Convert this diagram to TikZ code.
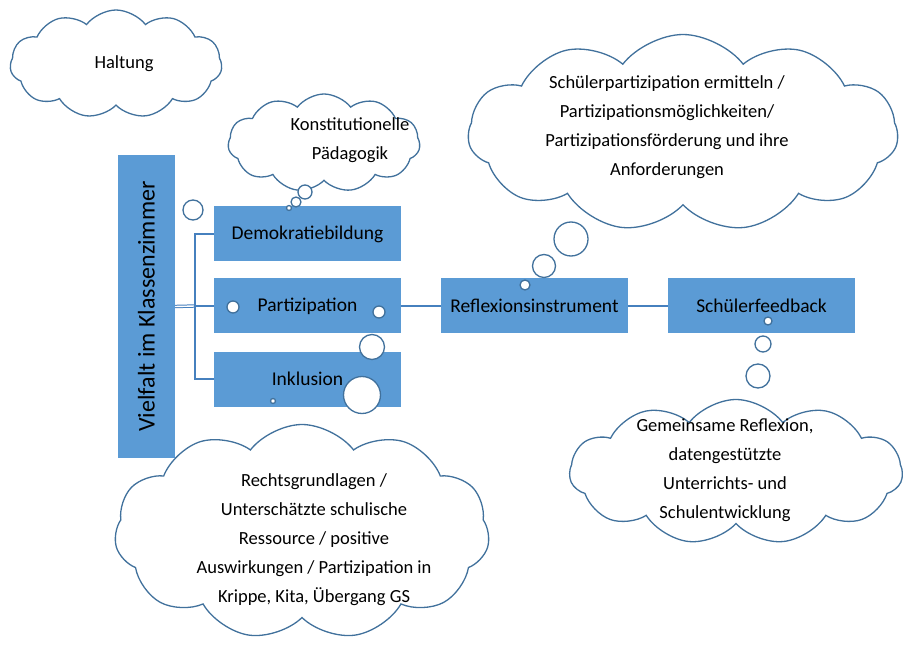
\documentclass[tikz,border=0pt]{standalone}
\usepackage{fontspec}
\setmainfont{Carlito}
\usetikzlibrary{shapes}

\definecolor{boxblue}{RGB}{91,155,213}
\definecolor{randblau}{RGB}{65,113,156}
\definecolor{linienblau}{RGB}{70,128,190}

\begin{document}
\begin{tikzpicture}[x=1pt,y=1pt]
        \tikzstyle{every node}+=[inner sep=0pt]
        \tikzstyle{box}=[fill=boxblue, minimum width=187, minimum height=55, font=\fontsize{19.5}{23}\selectfont]
        \tikzstyle{wolke}=[cloud, cloud puffs=11, cloud puff arc=105, cloud ignores aspect, draw=randblau, line width=1.3pt, fill=white]
        \tikzstyle{blase}=[circle, draw=randblau, line width=1.3pt, fill=white]
        \tikzstyle{txt}=[align=center, font=\fontsize{18.5}{29}\selectfont]
        \tikzstyle{verbinder}=[draw=linienblau, line width=1.3pt]
        \useasboundingbox (0,0) rectangle (903,-655);
        % boxes
        \node[box, rotate=90, minimum width=303, minimum height=57, font=\fontsize{24}{28}\selectfont] (vielfalt) at (146.5,-306.5) {Vielfalt im Klassenzimmer};
        \node[box] (demo) at (307.5,-234) {Demokratiebildung};
        \node[box] (partiz) at (307.5,-306) {Partizipation};
        \node[box] (inkl) at (307.5,-379) {Inklusion};
        \node[box] (reflex) at (534.5,-306) {Reflexionsinstrument};
        \node[box] (feedback) at (761.5,-306) {Schülerfeedback};
        % connectors
        \coordinate (split) at (195,-306);
        \draw [verbinder, line width=1pt, double, double distance=1.4pt] (vielfalt.south) -- (split);
        \draw [verbinder] (demo.west) -- (demo.west -| split) -- (inkl.west -| split) -- (inkl.west);
        \draw [verbinder] (split) -- (partiz.west);
        \draw [verbinder] (partiz) -- (reflex);
        \draw [verbinder] (reflex) -- (feedback);
        % clouds
        \node[wolke, minimum width=212, minimum height=108] (haltung) at (116,-64) {};
        \draw (124,-64) node[txt] (haltungtext) {Haltung};
        \node[wolke, minimum width=192, minimum height=98] (konst) at (324,-143) {};
        \draw (350,-140) node[txt] (konsttext) {Konstitutionelle\\Pädagogik};
        \node[wolke, minimum width=430, minimum height=197] (ermitteln) at (683,-133) {};
        \draw (667,-127) node[txt] (ermittelntext) {Schülerpartizipation ermitteln /\\Partizipationsmöglichkeiten/\\Partizipationsförderung und ihre\\Anforderungen};
        \node[wolke, minimum width=375, minimum height=215] (recht) at (302,-532) {};
        \draw (314,-540) node[txt] (rechttext) {Rechtsgrundlagen /\\Unterschätzte schulische\\Ressource / positive\\Auswirkungen / Partizipation in\\Krippe, Kita, Übergang GS};
        \node[wolke, minimum width=333, minimum height=145] (gemein) at (736,-472) {};
        \draw (725,-470) node[txt] (gemeintext) {Gemeinsame Reflexion,\\datengestützte\\Unterrichts- und\\Schulentwicklung};
        % bubbles
        \node[blase, minimum size=20] (b1) at (193,-210) {};
        \node[blase, minimum size=14] (b2) at (305,-192) {};
        \node[blase, minimum size=10] (b3) at (296,-202) {};
        \node[blase, minimum size=5] (b4) at (289,-208) {};
        \node[blase, minimum size=12] (b5) at (233,-307) {};
        \node[blase, minimum size=12] (b6) at (379,-312) {};
        \node[blase, minimum size=25] (b7) at (372,-347) {};
        \node[blase, minimum size=37] (b8) at (362,-395) {};
        \node[blase, minimum size=5] (b9) at (273,-401) {};
        \node[blase, minimum size=34] (b10) at (571,-239) {};
        \node[blase, minimum size=23] (b11) at (544,-266) {};
        \node[blase, minimum size=10] (b12) at (525,-285) {};
        \node[blase, minimum size=8] (b13) at (768,-321) {};
        \node[blase, minimum size=16] (b14) at (763,-344) {};
        \node[blase, minimum size=24] (b15) at (758,-376) {};
\end{tikzpicture}
\end{document}
